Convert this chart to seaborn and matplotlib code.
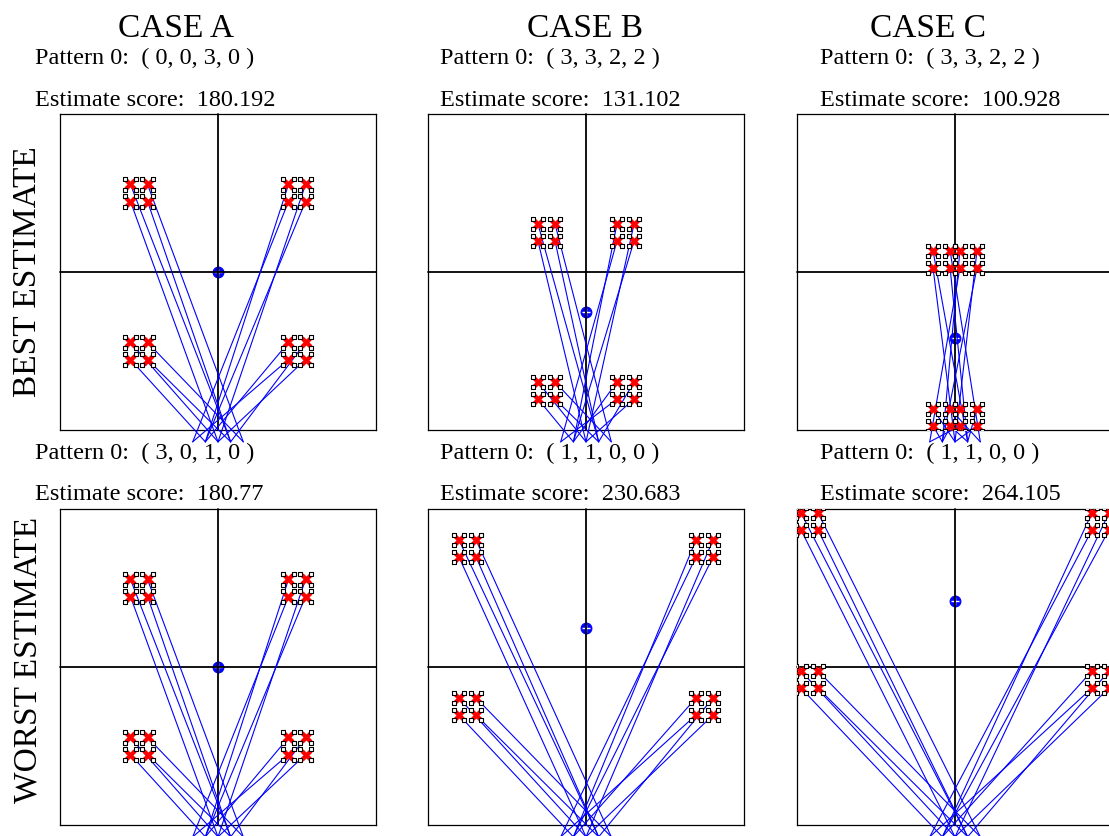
import numpy as np
import pandas as pd
import matplotlib
matplotlib.use("Agg")
import matplotlib.pyplot as plt
import seaborn as sns

sns.set_theme(style="white")
plt.rcParams["font.family"] = ["Liberation Serif", "DejaVu Serif"]
plt.rcParams["text.color"] = "black"

# ---- data ----
cases = ["CASE A", "CASE B", "CASE C"]
row_labels = ["BEST ESTIMATE", "WORST ESTIMATE"]
patterns = [["( 0, 0, 3, 0 )", "( 3, 3, 2, 2 )", "( 3, 3, 2, 2 )"],
            ["( 3, 0, 1, 0 )", "( 1, 1, 0, 0 )", "( 1, 1, 0, 0 )"]]
scores = [["180.192", "131.102", "100.928"],
          ["180.77", "230.683", "264.105"]]

# cluster centres (x is symmetric +/-), per row and case
cluster_x = [[0.5, 0.25, 0.085], [0.5, 0.75, 0.92]]
cluster_top = [[0.5, 0.25, 0.08], [0.5, 0.75, 0.92]]
cluster_bottom = [[-0.5, -0.75, -0.92], [-0.5, -0.25, -0.08]]
quad_offset = 0.054
rotor_offset = 0.033

# landing points of the links, below the frame
endpoint_x = [-0.16, -0.08, 0.0, 0.08, 0.16]
endpoint_y = -1.075
# endpoint index per quad: clusters TL, TR, BL, BR; quads TL, TR, BL, BR
links = {"TL": [3, 4, 2, 3], "TR": [1, 2, 0, 1],
         "BL": [2, 4, 1, 3], "BR": [1, 3, 0, 2]}

W, H = 1109, 836
fig = plt.figure(figsize=(W / 100, H / 100), dpi=100)

ax_left = [60, 428, 797]
ax_top = [114, 509]
size = 316
title_x = [176, 585, 928]
text_x = [35, 440, 820]
pattern_y = [64, 459]
score_y = [106, 500]
label_y = [272, 660]


def fx(px):
    return px / W


def fy(py):
    return 1 - py / H


for r in range(2):
    fig.text(fx(28), fy(label_y[r]), row_labels[r], rotation=90,
             ha="center", va="center", fontsize=24)
    for c in range(3):
        ax = fig.add_axes([fx(ax_left[c]), fy(ax_top[r] + size), size / W, size / H])
        ax.set_xlim(-1, 1)
        ax.set_ylim(-1, 1)
        ax.set_xticks([])
        ax.set_yticks([])
        for s in ax.spines.values():
            s.set_color("black")
            s.set_linewidth(0.9)

        cx = cluster_x[r][c]
        centres = {"TL": (-cx, cluster_top[r][c]), "TR": (cx, cluster_top[r][c]),
                   "BL": (-cx, cluster_bottom[r][c]), "BR": (cx, cluster_bottom[r][c])}
        quads, segs, rotors = [], [], []
        seg_id = 0
        for name, (x0, y0) in centres.items():
            offs = [(-quad_offset, quad_offset), (quad_offset, quad_offset),
                    (-quad_offset, -quad_offset), (quad_offset, -quad_offset)]
            for k, (dx, dy) in enumerate(offs):
                qx, qy = x0 + dx, y0 + dy
                quads.append((qx, qy))
                ex = endpoint_x[links[name][k]]
                segs.append((seg_id, qx, qy))
                segs.append((seg_id, ex, endpoint_y))
                seg_id += 1
                for sx in (-1, 1):
                    for sy in (-1, 1):
                        rotors.append((qx + sx * rotor_offset, qy + sy * rotor_offset))
        quad_df = pd.DataFrame(quads, columns=["x", "y"])
        seg_df = pd.DataFrame(segs, columns=["seg", "x", "y"])
        rot_df = pd.DataFrame(rotors, columns=["x", "y"])
        centre_df = pd.DataFrame({"x": [0.0],
                                  "y": [(cluster_top[r][c] + cluster_bottom[r][c]) / 2]})

        sns.scatterplot(data=centre_df, x="x", y="y", ax=ax, marker="o", s=60,
                        color="blue", edgecolor="blue", linewidth=0.8, zorder=1)
        sns.scatterplot(data=centre_df, x="x", y="y", ax=ax, marker="+", s=30,
                        color="white", linewidth=1.0, zorder=1.5)
        ax.axhline(0, color="black", lw=1.3, zorder=2)
        ax.axvline(0, color="black", lw=1.3, zorder=2)

        sns.lineplot(data=seg_df, x="x", y="y", units="seg", estimator=None,
                     sort=False, ax=ax, color="#0000ff", lw=0.8, zorder=3)
        for ln in ax.lines:
            ln.set_clip_on(False)
        sns.scatterplot(data=quad_df, x="x", y="y", ax=ax, marker="X", s=75,
                        color="red", linewidth=0, zorder=4)
        sns.scatterplot(data=rot_df, x="x", y="y", ax=ax, marker="s", s=5,
                        color="white", edgecolor="black", linewidth=0.8, zorder=5)
        ax.set_xlim(-1, 1)
        ax.set_ylim(-1, 1)
        ax.set_xlabel("")
        ax.set_ylabel("")

        fig.text(fx(text_x[c]), fy(pattern_y[r]), "Pattern 0:  " + patterns[r][c],
                 ha="left", va="baseline", fontsize=17.5)
        fig.text(fx(text_x[c]), fy(score_y[r]), "Estimate score:  " + scores[r][c],
                 ha="left", va="baseline", fontsize=17.5)
        if r == 0:
            fig.text(fx(title_x[c]), fy(37), cases[c], ha="center", va="baseline",
                     fontsize=24)

fig.savefig("out.png", dpi=100)
